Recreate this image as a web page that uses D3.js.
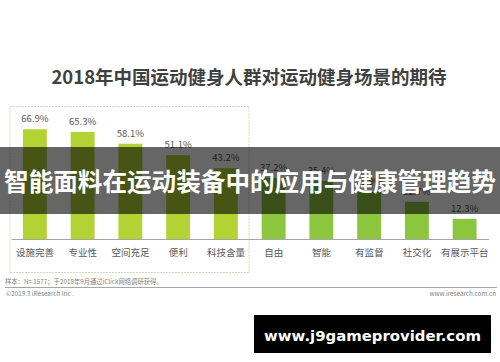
<!DOCTYPE html>
<html>
<head>
<meta charset="utf-8">
<script src="https://cdn.jsdelivr.net/npm/d3@7"></script>
<style>
  body { margin: 0; background: #fff; }
  svg { display: block; font-family: "Noto Sans CJK SC", "Noto Sans", sans-serif; }
</style>
</head>
<body>
<div id="chart"></div>
<script>
// data
var categories = ["设施完善", "专业性", "空间充足", "便利", "科技含量", "自由", "智能", "有监督", "社交化", "有展示平台"];
var values = [66.9, 65.3, 58.1, 51.1, 43.2, 37.2, 35.4, 28.9, 22.7, 12.3];
var groups = ["场地", "场地", "场地", "场地", "场地", "体验", "体验", "体验", "体验", "体验"];

var width = 500, height = 362;

var svg = d3.select("#chart").append("svg")
    .attr("width", width)
    .attr("height", height);

// title
svg.append("text")
    .attr("x", 249)
    .attr("y", 84)
    .attr("text-anchor", "middle")
    .style("font-size", "18.5px")
    .style("font-weight", "bold")
    .style("fill", "#404040")
    .text("2018年中国运动健身人群对运动健身场景的期待");

// dotted box round the left half
svg.append("rect")
    .attr("x", 10)
    .attr("y", 106.5)
    .attr("width", 239)
    .attr("height", 166)
    .style("fill", "none")
    .style("stroke", "#cfdcb8")
    .style("stroke-width", 1)
    .style("stroke-dasharray", "2,1");

// set the ranges
var x = d3.scaleBand()
    .domain(categories)
    .range([11, 488.5])
    .paddingInner(0.5)
    .paddingOuter(0.25);
var y = d3.scaleLinear()
    .domain([0, 100])
    .range([239, 75]);

var color = d3.scaleOrdinal()
    .domain(["场地", "体验"])
    .range(["#b3d234", "#8cc63f"]);

var data = categories.map(function (c, i) { return { name: c, value: values[i], group: groups[i] }; });

svg.selectAll(".bar")
    .data(data)
    .enter().append("rect")
    .attr("class", "bar")
    .attr("x", function (d) { return x(d.name); })
    .attr("width", x.bandwidth())
    .attr("y", function (d) { return y(d.value); })
    .attr("height", function (d) { return y(0) - y(d.value); })
    .style("fill", function (d) { return color(d.group); });

svg.selectAll(".val")
    .data(data)
    .enter().append("text")
    .attr("class", "val")
    .attr("x", function (d) { return x(d.name) + x.bandwidth() / 2; })
    .attr("y", function (d) { return y(d.value) - 7; })
    .attr("text-anchor", "middle")
    .style("font-size", "9.5px")
    .style("fill", "#595959")
    .text(function (d) { return d.value.toFixed(1) + "%"; });

// x axis
var xAxis = svg.append("g")
    .attr("transform", "translate(0," + y(0) + ")")
    .call(d3.axisBottom(x).tickSize(0).tickPadding(10).tickSizeOuter(0));
xAxis.select(".domain").attr("stroke", "#a6a6a6");
xAxis.selectAll("text")
    .style("font-family", "'Noto Sans CJK SC', sans-serif")
    .style("font-size", "9.5px")
    .style("fill", "#595959");

// notes
svg.append("text")
    .attr("x", 5)
    .attr("y", 284)
    .style("font-size", "6.3px")
    .style("fill", "#7f7f7f")
    .text("样本：N= 1577；于2018年9月通过iClick网络调研获得。");

svg.append("line")
    .attr("x1", 5).attr("x2", 497)
    .attr("y1", 287.5).attr("y2", 287.5)
    .style("stroke", "#a6a6a6")
    .style("stroke-width", 1);

svg.append("text")
    .attr("x", 6)
    .attr("y", 295.5)
    .style("font-size", "6.3px")
    .style("fill", "#7f7f7f")
    .text("©2019.3 iResearch Inc .");

svg.append("text")
    .attr("x", 496)
    .attr("y", 295.5)
    .attr("text-anchor", "end")
    .style("font-size", "6.3px")
    .style("fill", "#7f7f7f")
    .text("www.iresearch.com.cn");

// dark band with headline over the chart
svg.append("rect")
    .attr("x", 0)
    .attr("y", 147)
    .attr("width", width)
    .attr("height", 67)
    .style("fill", "#000")
    .style("opacity", 0.6);

svg.append("text")
    .attr("x", 250)
    .attr("y", 191)
    .attr("text-anchor", "middle")
    .style("font-size", "24.6px")
    .style("font-weight", "bold")
    .style("fill", "#fff")
    .text("智能面料在运动装备中的应用与健康管理趋势");

// watermark
svg.append("rect")
    .attr("x", 254)
    .attr("y", 315)
    .attr("width", 237)
    .attr("height", 38)
    .style("fill", "#000");

var wm = svg.append("text")
    .attr("x", 372.5)
    .attr("y", 341)
    .attr("text-anchor", "middle")
    .style("font-family", "'DejaVu Sans', sans-serif")
    .style("font-size", "17px")
    .style("font-weight", "bold")
    .style("fill", "#fff")
    .text("www.j9gameprovider.com");

// shrink the font until it fits the 217px the reference shows
var w = wm.node().getComputedTextLength();
if (w > 0) wm.style("font-size", (17 * 217 / w).toFixed(2) + "px");
</script>
</body>
</html>
